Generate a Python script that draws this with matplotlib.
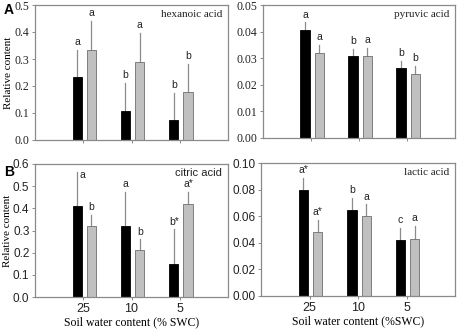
import matplotlib
matplotlib.use('Agg')
import matplotlib.pyplot as plt
import numpy as np

swc = ['25', '10', '5']

hex_black = [0.235, 0.108, 0.073]
hex_black_err = [0.100, 0.102, 0.100]
hex_gray = [0.335, 0.290, 0.178]
hex_gray_err = [0.105, 0.107, 0.105]
hex_letters = (['a', 'b', 'b'], ['a', 'a', 'b'])

pyr_black = [0.0405, 0.031, 0.0265]
pyr_black_err = [0.003, 0.0025, 0.0025]
pyr_gray = [0.032, 0.031, 0.024]
pyr_gray_err = [0.003, 0.003, 0.003]
pyr_letters = (['a', 'b', 'b'], ['a', 'a', 'b'])

cit_black = [0.41, 0.32, 0.15]
cit_black_err = [0.155, 0.155, 0.155]
cit_gray = [0.32, 0.21, 0.42]
cit_gray_err = [0.05, 0.05, 0.055]
cit_letters = (['a', 'a', 'b*'], ['b', 'b', 'a*'])

lac_black = [0.080, 0.065, 0.042]
lac_black_err = [0.009, 0.009, 0.009]
lac_gray = [0.048, 0.060, 0.043]
lac_gray_err = [0.009, 0.009, 0.010]
lac_letters = (['a*', 'b', 'c'], ['a*', 'a', 'a'])

serif = 'Liberation Serif'
sans = 'Liberation Sans'
frame_col = '#8a8a8a'

fig = plt.figure(figsize=(4.57, 3.29), dpi=100)
W, H = 457, 329


def add_ax(l, t, r, b):
    return fig.add_axes([l / W, 1 - b / H, (r - l) / W, (b - t) / H])


panels = [
    (add_ax(35, 5, 228, 140), hex_black, hex_black_err, hex_gray, hex_gray_err, hex_letters,
     0.5, 0.1, '%.1f', 'hexanoic acid', serif, True, False),
    (add_ax(263, 5, 455, 138), pyr_black, pyr_black_err, pyr_gray, pyr_gray_err, pyr_letters,
     0.05, 0.01, '%.2f', 'pyruvic acid', serif, False, False),
    (add_ax(35, 164, 228, 297), cit_black, cit_black_err, cit_gray, cit_gray_err, cit_letters,
     0.6, 0.1, '%.1f', 'citric acid', sans, True, True),
    (add_ax(261, 163, 455, 296), lac_black, lac_black_err, lac_gray, lac_gray_err, lac_letters,
     0.10, 0.02, '%.2f', 'lactic acid', serif, False, True),
]

x = np.arange(1, 4)
w = 0.19
off_b, off_g = -0.125, 0.17

for ax, bv, be, gv, ge, letters, ymax, step, fmt, title, tfont, ylab, bottom in panels:
    ax.bar(x + off_b, bv, w, color='black', edgecolor='black', linewidth=0.6, zorder=2)
    ax.bar(x + off_g, gv, w, color='#c0c0c0', edgecolor='#6e6e6e', linewidth=0.6, zorder=2)
    for xs, vals, errs in ((x + off_b, bv, be), (x + off_g, gv, ge)):
        for xi, v, e in zip(xs, vals, errs):
            ax.plot([xi, xi], [v, v + e], color='#8c8c8c', lw=0.9, zorder=1)
    pad = ymax * 0.058
    for xs, vals, errs, labs in ((x + off_b, bv, be, letters[0]), (x + off_g, gv, ge, letters[1])):
        for xi, v, e, lab in zip(xs, vals, errs, labs):
            ty = v + e + pad
            tx = xi
            if ty > ymax * 0.96:
                # no room above the frame: put the letter beside the error bar
                ty = v + e - ymax * 0.025
                tx = xi + 0.11
            ax.text(tx, ty, lab, ha='center', va='center', fontsize=7.5,
                    family=sans, color='#222222')
    ax.set_xlim(0, 4)
    ax.set_ylim(0, ymax)
    ax.set_yticks(np.arange(0, ymax + step / 2, step))
    ax.yaxis.set_major_formatter(matplotlib.ticker.FormatStrFormatter(fmt))
    ax.set_xticks(x)
    for s in ax.spines.values():
        s.set_color(frame_col)
        s.set_linewidth(0.9)
    ax.tick_params(length=2, width=0.7, color=frame_col, pad=2)
    tick_font = sans if bottom else serif
    for lbl in ax.get_yticklabels():
        lbl.set_family(tick_font)
        lbl.set_fontsize(8.5)
        lbl.set_color('#222222')
    if bottom:
        ax.set_xticklabels(swc, family=sans, fontsize=9, color='#222222')
    else:
        ax.set_xticklabels([])
    ax.text(0.97, 0.93, title, transform=ax.transAxes, ha='right', va='center',
            fontsize=8, family=tfont, color='#222222')
    if ylab:
        ax.set_ylabel('Relative content', family=serif, fontsize=8, labelpad=1)

panels[2][0].set_xlabel('Soil water content (% SWC)', family=serif, fontsize=8.5, labelpad=1)
panels[3][0].set_xlabel('Soil water content (%SWC)', family=serif, fontsize=8.5, labelpad=1)

fig.text(4 / W, 1 - 10 / H, 'A', family=sans, fontweight='bold', fontsize=10, va='center')
fig.text(4 / W, 1 - 172 / H, 'B', family=sans, fontweight='bold', fontsize=10, va='center')

fig.savefig('out.png', dpi=100)
